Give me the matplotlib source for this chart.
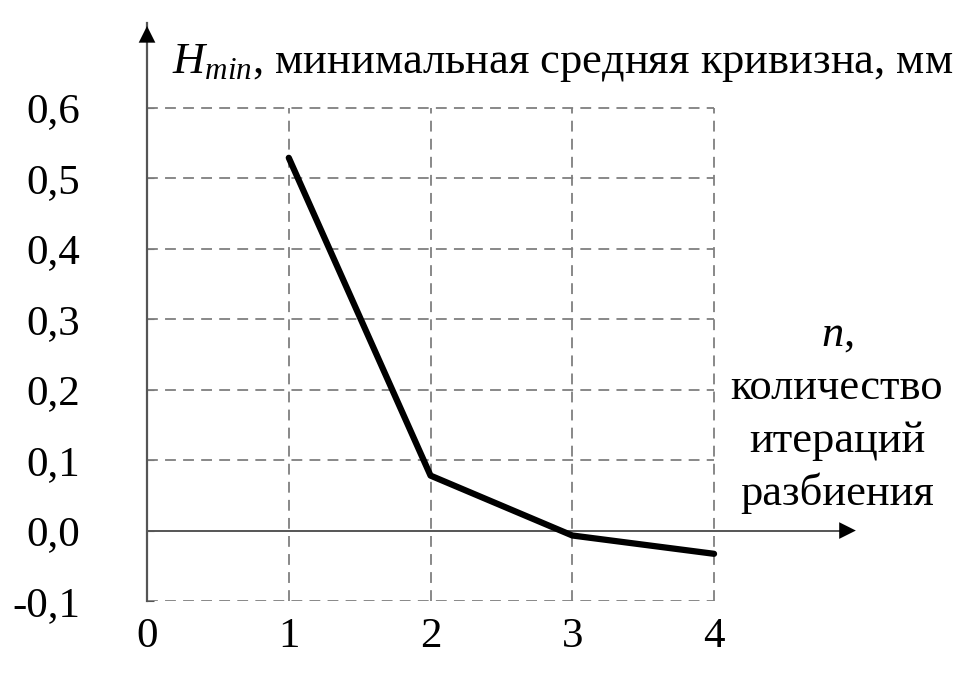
import matplotlib
matplotlib.use('Agg')
import matplotlib.pyplot as plt

# данные
n_iter = [1, 2, 3, 4]
h_min = [0.529, 0.078, -0.007, -0.033]
x_ticks = [0, 1, 2, 3, 4]
y_ticks = [-0.1, 0.0, 0.1, 0.2, 0.3, 0.4, 0.5, 0.6]
y_labels = ['-0,1', '0,0', '0,1', '0,2', '0,3', '0,4', '0,5', '0,6']
x_label_lines = [r'$n$,', 'количество', 'итераций', 'разбиения']

plt.rcParams['font.family'] = 'Liberation Serif'
plt.rcParams['mathtext.fontset'] = 'custom'
plt.rcParams['mathtext.rm'] = 'Liberation Serif'
plt.rcParams['mathtext.it'] = 'Liberation Serif:italic'

fig = plt.figure(figsize=(9.66, 6.75), dpi=100)
ax = fig.add_axes([0.1522, 0.1096, 0.7484, 0.856])
ax.set_xlim(0, 5.1)
ax.set_ylim(-0.1, 0.72)

grid_c = '#7f7f7f'
# сетка
ax.vlines(x_ticks[1:], -0.1, 0.6, colors=grid_c, linestyles=(0, (6, 4)), lw=1.3)
ax.hlines([v for v in y_ticks if v != 0.0], 0, 4, colors=grid_c, linestyles=(0, (6, 4)), lw=1.3)

# оси
ax.plot([0, 4.95], [0, 0], color='#555555', lw=1.4, zorder=2)
ax.annotate('', xy=(5.02, 0), xytext=(4.8, 0),
            arrowprops=dict(arrowstyle='-|>', color='black', mutation_scale=30, lw=0))
ax.annotate('', xy=(0, 0.72), xytext=(0, 0.66),
            arrowprops=dict(arrowstyle='-|>', color='black', mutation_scale=30, lw=0),
            annotation_clip=False)

# кривая
ax.plot(n_iter, h_min, color='black', lw=4.5, solid_joinstyle='round',
        solid_capstyle='round', zorder=3)

for s in ['top', 'right', 'bottom']:
    ax.spines[s].set_visible(False)
ax.spines['left'].set_color('#555555')
ax.spines['left'].set_linewidth(1.6)

ax.set_yticks(y_ticks)
ax.set_yticklabels(y_labels)
ax.set_xticks(x_ticks)
ax.set_xticklabels([str(v) for v in x_ticks])
ax.tick_params(axis='y', direction='in', length=5, color='#555555', labelsize=31, pad=48)
ax.tick_params(axis='x', length=0, labelsize=31, pad=12)

fig.text(172 / 966, 1 - 73 / 675, r'$H_{min}$, минимальная средняя кривизна, мм',
         fontsize=32, ha='left', va='baseline')
for i, line in enumerate(x_label_lines):
    fig.text(837 / 966, 1 - (346 + 53 * i) / 675, line, fontsize=32,
             ha='center', va='baseline')

plt.savefig('out.png', dpi=100)
